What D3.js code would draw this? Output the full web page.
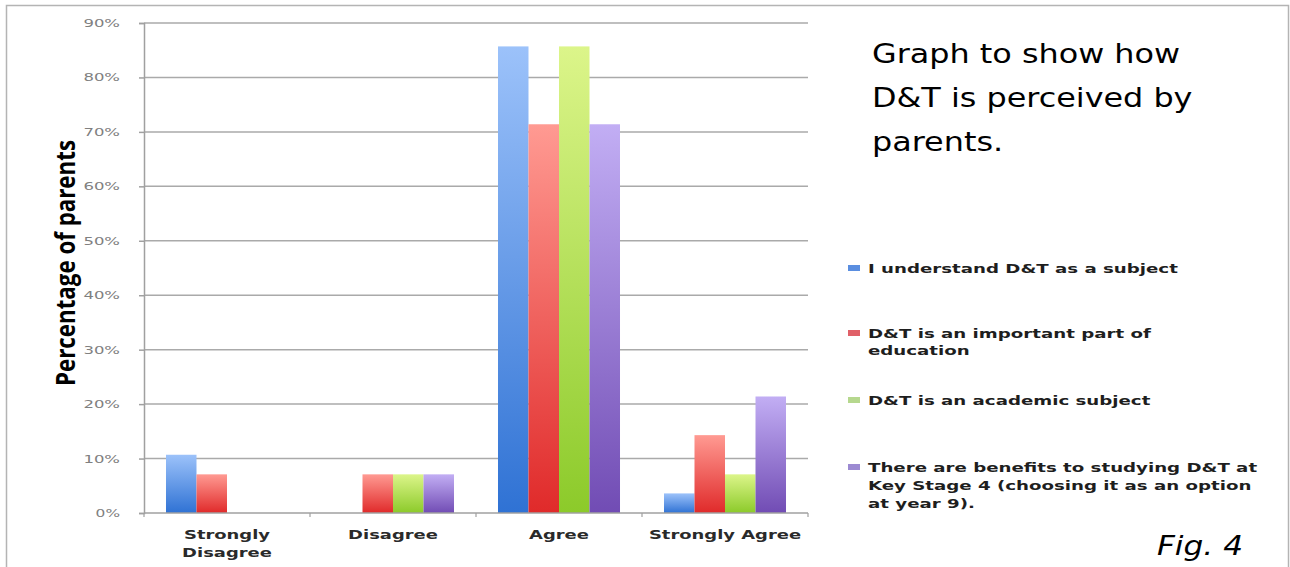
<!DOCTYPE html>
<html>
<head>
<meta charset="utf-8">
<script src="https://cdn.jsdelivr.net/npm/d3@7/dist/d3.min.js"></script>
<style>
  html, body { margin: 0; padding: 0; background: #fff; }
  svg { display: block; }
</style>
</head>
<body>
<svg id="chart" width="1290" height="567"></svg>
<script>
// Survey responses (percentage of parents)
const categories = [["Strongly", "Disagree"], ["Disagree"], ["Agree"], ["Strongly Agree"]];
const categoryKeys = ["Strongly Disagree", "Disagree", "Agree", "Strongly Agree"];
const seriesNames = [
  ["I understand D&T as a subject"],
  ["D&T is an important part of", "education"],
  ["D&T is an academic subject"],
  ["There are benefits to studying D&T at", "Key Stage 4 (choosing it as an option", "at year 9)."]
];
const understandValues = [10.7, 0, 85.7, 3.6];
const importantValues = [7.1, 7.1, 71.4, 14.3];
const academicValues = [0, 7.1, 85.7, 7.1];
const benefitsValues = [0, 7.1, 71.4, 21.4];
const yTicks = [0, 10, 20, 30, 40, 50, 60, 70, 80, 90];
const titleLines = ["Graph to show how", "D&T is perceived by", "parents."];

const seriesValues = [understandValues, importantValues, academicValues, benefitsValues];
const seriesColors = [
  { top: "#9cc2fa", bottom: "#2f72d4", key: "#5a8ee0" },
  { top: "#ff9a92", bottom: "#e02a2a", key: "#e06068" },
  { top: "#dcf58a", bottom: "#8cca2a", key: "#b6d88e" },
  { top: "#c2aef4", bottom: "#714cb4", key: "#9c8ad2" }
];

const svg = d3.select("#chart");

// outer frame
svg.append("rect")
  .attr("x", 6.5).attr("y", 5.5)
  .attr("width", 1282).attr("height", 570)
  .attr("fill", "none").attr("stroke", "#b4b4b4").attr("stroke-width", 1.5);

const plot = { left: 144, right: 808, top: 23, bottom: 513 };

const x0 = d3.scaleBand().domain(categoryKeys).range([plot.left, plot.right]).paddingInner(0.265).paddingOuter(0.1325);
const x1 = d3.scaleBand().domain(d3.range(4)).range([0, x0.bandwidth()]);
const y = d3.scaleLinear().domain([0, 90]).range([plot.bottom, plot.top]);

// gradients
const defs = svg.append("defs");
seriesColors.forEach((c, i) => {
  const g = defs.append("linearGradient").attr("id", "grad" + i)
    .attr("x1", 0).attr("y1", 0).attr("x2", 0).attr("y2", 1);
  g.append("stop").attr("offset", "0%").attr("stop-color", c.top);
  g.append("stop").attr("offset", "100%").attr("stop-color", c.bottom);
});

// gridlines
svg.append("g")
  .selectAll("line").data(yTicks.filter(t => t > 0)).join("line")
  .attr("x1", plot.left).attr("x2", plot.right)
  .attr("y1", d => y(d)).attr("y2", d => y(d))
  .attr("stroke", "#aaaaaa").attr("stroke-width", 1.5);

// y axis
const yAxis = svg.append("g").attr("transform", `translate(${plot.left},0)`)
  .call(d3.axisLeft(y).tickValues(yTicks).tickSize(5).tickPadding(19).tickFormat(d => d + "%"));
yAxis.select(".domain").attr("stroke", "#a0a0a0").attr("stroke-width", 1.5);
yAxis.selectAll(".tick line").attr("stroke", "#a0a0a0").attr("stroke-width", 1.5);
yAxis.selectAll(".tick text")
  .attr("fill", "#808080")
  .style("font-family", "'DejaVu Sans', Verdana, sans-serif")
  .style("font-size", "11px")
  .attr("textLength", d => (d + "%").length * 12.2)
  .attr("lengthAdjust", "spacingAndGlyphs");

// bars
const groups = svg.append("g").selectAll("g").data(categoryKeys).join("g")
  .attr("transform", d => `translate(${x0(d)},0)`);
groups.selectAll("rect")
  .data((d, ci) => seriesValues.map((vals, si) => ({ si, v: vals[ci] })).filter(e => e.v > 0))
  .join("rect")
  .attr("x", d => x1(d.si))
  .attr("width", x1.bandwidth())
  .attr("y", d => y(d.v))
  .attr("height", d => y(0) - y(d.v))
  .attr("fill", d => `url(#grad${d.si})`);

// x axis
const xAxis = svg.append("g").attr("transform", `translate(0,${plot.bottom})`);
xAxis.append("line").attr("x1", plot.left).attr("x2", plot.right)
  .attr("stroke", "#a0a0a0").attr("stroke-width", 1.5);
xAxis.selectAll(".xt").data(d3.range(categoryKeys.length + 1)).join("line")
  .attr("class", "xt")
  .attr("x1", i => plot.left + i * (plot.right - plot.left) / categoryKeys.length)
  .attr("x2", i => plot.left + i * (plot.right - plot.left) / categoryKeys.length)
  .attr("y1", 0).attr("y2", 4)
  .attr("stroke", "#a0a0a0").attr("stroke-width", 1.2);
xAxis.selectAll(".xl").data(categoryKeys).join("text")
  .attr("class", "xl")
  .attr("transform", d => `translate(${x0(d) + x0.bandwidth() / 2},0) scale(1.38,1)`)
  .attr("text-anchor", "middle")
  .attr("fill", "#2a2a2a")
  .style("font-family", "'DejaVu Sans', Verdana, sans-serif")
  .style("font-weight", "bold")
  .style("font-size", "13px")
  .each(function(d, i) {
    const t = d3.select(this);
    categories[i].forEach((line, li) => {
      t.append("tspan").attr("x", 0).attr("y", 26 + li * 18).text(line);
    });
  });

// y axis title
svg.append("text")
  .attr("transform", `translate(75,263) rotate(-90)`)
  .attr("text-anchor", "middle")
  .attr("fill", "#000")
  .style("font-family", "'Open Sans', sans-serif")
  .style("font-weight", "700")
  .style("font-size", "26px")
  .attr("textLength", 246)
  .attr("lengthAdjust", "spacingAndGlyphs")
  .text("Percentage  of parents");

// legend
const legendY = [[268], [333, 350], [400], [467, 485, 503]];
const legend = svg.append("g");
seriesNames.forEach((lines, i) => {
  legend.append("rect")
    .attr("x", 848).attr("y", legendY[i][0] - 3)
    .attr("width", 12).attr("height", 6)
    .attr("fill", seriesColors[i].key);
  const t = legend.append("text")
    .attr("transform", "translate(868,0) scale(1.4,1)")
    .attr("fill", "#1e1e1e")
    .style("font-family", "'DejaVu Sans', Verdana, sans-serif")
    .style("font-weight", "bold")
    .style("font-size", "13px");
  lines.forEach((line, li) => {
    t.append("tspan").attr("x", 0).attr("y", legendY[i][li]).attr("dy", "0.36em").text(line);
  });
});

// title block
const title = svg.append("text")
  .attr("transform", "translate(872,0) scale(1.18,1)")
  .attr("fill", "#000")
  .style("font-family", "'DejaVu Sans', Verdana, sans-serif")
  .style("font-size", "27px");
titleLines.forEach((line, i) => {
  title.append("tspan").attr("x", 0).attr("y", 63 + i * 44).text(line);
});

svg.append("text")
  .attr("transform", "translate(1243,555) scale(1.2,1)")
  .attr("text-anchor", "end")
  .attr("fill", "#000")
  .style("font-family", "'DejaVu Sans', Verdana, sans-serif")
  .style("font-style", "italic")
  .style("font-size", "26px")
  .text("Fig. 4");
</script>
</body>
</html>
